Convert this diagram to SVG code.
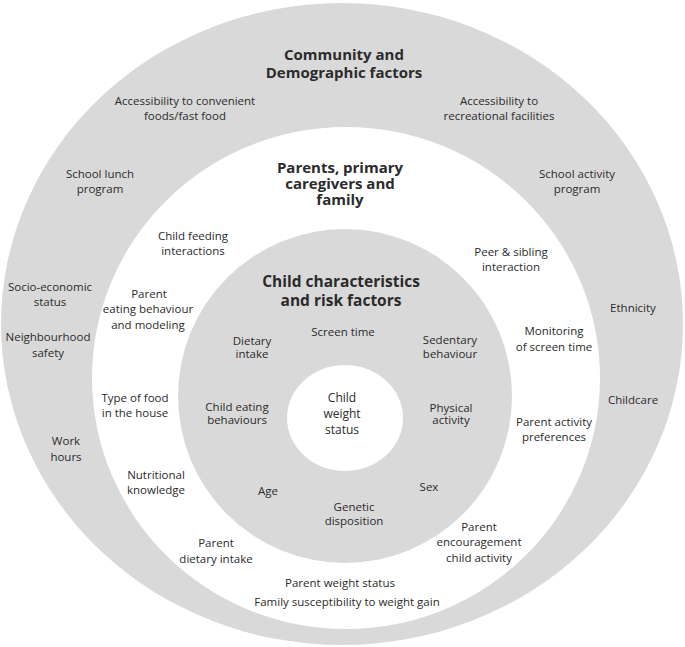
<svg xmlns="http://www.w3.org/2000/svg" width="685" height="647" viewBox="0 0 685 647">
<style>
.ring-grey{fill:#d9d9d9}
.ring-white{fill:#ffffff}
text{font-family:"Open Sans","Noto Sans","Liberation Sans",sans-serif;fill:#2b2b2b;text-anchor:middle}
.t{font-size:11.5px}
.c{font-size:11.5px}
.h{font-size:15px;font-weight:bold}
.hc{font-size:15.5px;font-weight:bold}
.m{font-size:12px}
</style>
<rect width="685" height="647" fill="#ffffff"/>
<g id="community">
<ellipse class="ring-grey" cx="342" cy="324" rx="341" ry="321"/>
<text class="h" x="344" y="60">Community and</text>
<text class="h" x="344" y="78">Demographic factors</text>
<text class="t" x="185" y="105">Accessibility to convenient</text>
<text class="t" x="185" y="120">foods/fast food</text>
<text class="t" x="499" y="105">Accessibility to</text>
<text class="t" x="499" y="120">recreational facilities</text>
<text class="t" x="100" y="178">School lunch</text>
<text class="t" x="100" y="193">program</text>
<text class="t" x="577" y="178">School activity</text>
<text class="t" x="577" y="193">program</text>
<text class="t" x="50" y="291">Socio-economic</text>
<text class="t" x="50" y="306">status</text>
<text class="t" x="48" y="341">Neighbourhood</text>
<text class="t" x="48" y="357">safety</text>
<text class="t" x="633" y="312">Ethnicity</text>
<text class="t" x="633" y="404">Childcare</text>
<text class="t" x="66" y="445">Work</text>
<text class="t" x="66" y="461">hours</text>
</g>
<g id="parents">
<ellipse class="ring-white" cx="346" cy="378" rx="254" ry="251"/>
<text class="h" x="340" y="173">Parents, primary</text>
<text class="h" x="340" y="189">caregivers and</text>
<text class="h" x="340" y="205">family</text>
<text class="t" x="193" y="240">Child feeding</text>
<text class="t" x="193" y="255">interactions</text>
<text class="t" x="511" y="256">Peer &amp; sibling</text>
<text class="t" x="511" y="271">interaction</text>
<text class="t" x="149" y="298">Parent</text>
<text class="t" x="148" y="313">eating behaviour</text>
<text class="t" x="148" y="329">and modeling</text>
<text class="t" x="554" y="335">Monitoring</text>
<text class="t" x="554" y="351">of screen time</text>
<text class="t" x="135" y="402">Type of food</text>
<text class="t" x="135" y="417">in the house</text>
<text class="t" x="554" y="426">Parent activity</text>
<text class="t" x="554" y="441">preferences</text>
<text class="t" x="156" y="479">Nutritional</text>
<text class="t" x="156" y="494">knowledge</text>
<text class="t" x="479" y="531">Parent</text>
<text class="t" x="479" y="546">encouragement</text>
<text class="t" x="479" y="562">child activity</text>
<text class="t" x="216" y="547">Parent</text>
<text class="t" x="216" y="563">dietary intake</text>
<text class="t" x="340" y="587">Parent weight status</text>
<text class="t" x="347" y="606">Family susceptibility to weight gain</text>
</g>
<g id="child">
<ellipse class="ring-grey" cx="345" cy="396" rx="167" ry="167"/>
<text class="hc" x="341" y="287">Child characteristics</text>
<text class="hc" x="341" y="306">and risk factors</text>
<text class="c" x="343" y="336">Screen time</text>
<text class="c" x="252" y="345">Dietary</text>
<text class="c" x="252" y="358">intake</text>
<text class="c" x="450" y="344">Sedentary</text>
<text class="c" x="450" y="358">behaviour</text>
<text class="c" x="237" y="411">Child eating</text>
<text class="c" x="237" y="424">behaviours</text>
<text class="c" x="451" y="412">Physical</text>
<text class="c" x="451" y="424">activity</text>
<text class="c" x="268" y="495">Age</text>
<text class="c" x="429" y="491">Sex</text>
<text class="c" x="354" y="511">Genetic</text>
<text class="c" x="354" y="525">disposition</text>
</g>
<g id="weight-status">
<ellipse class="ring-white" cx="345" cy="418" rx="58" ry="53"/>
<text class="m" x="342" y="402">Child</text>
<text class="m" x="342" y="418">weight</text>
<text class="m" x="342" y="434">status</text>
</g>
<g id="connectors"/>
</svg>
